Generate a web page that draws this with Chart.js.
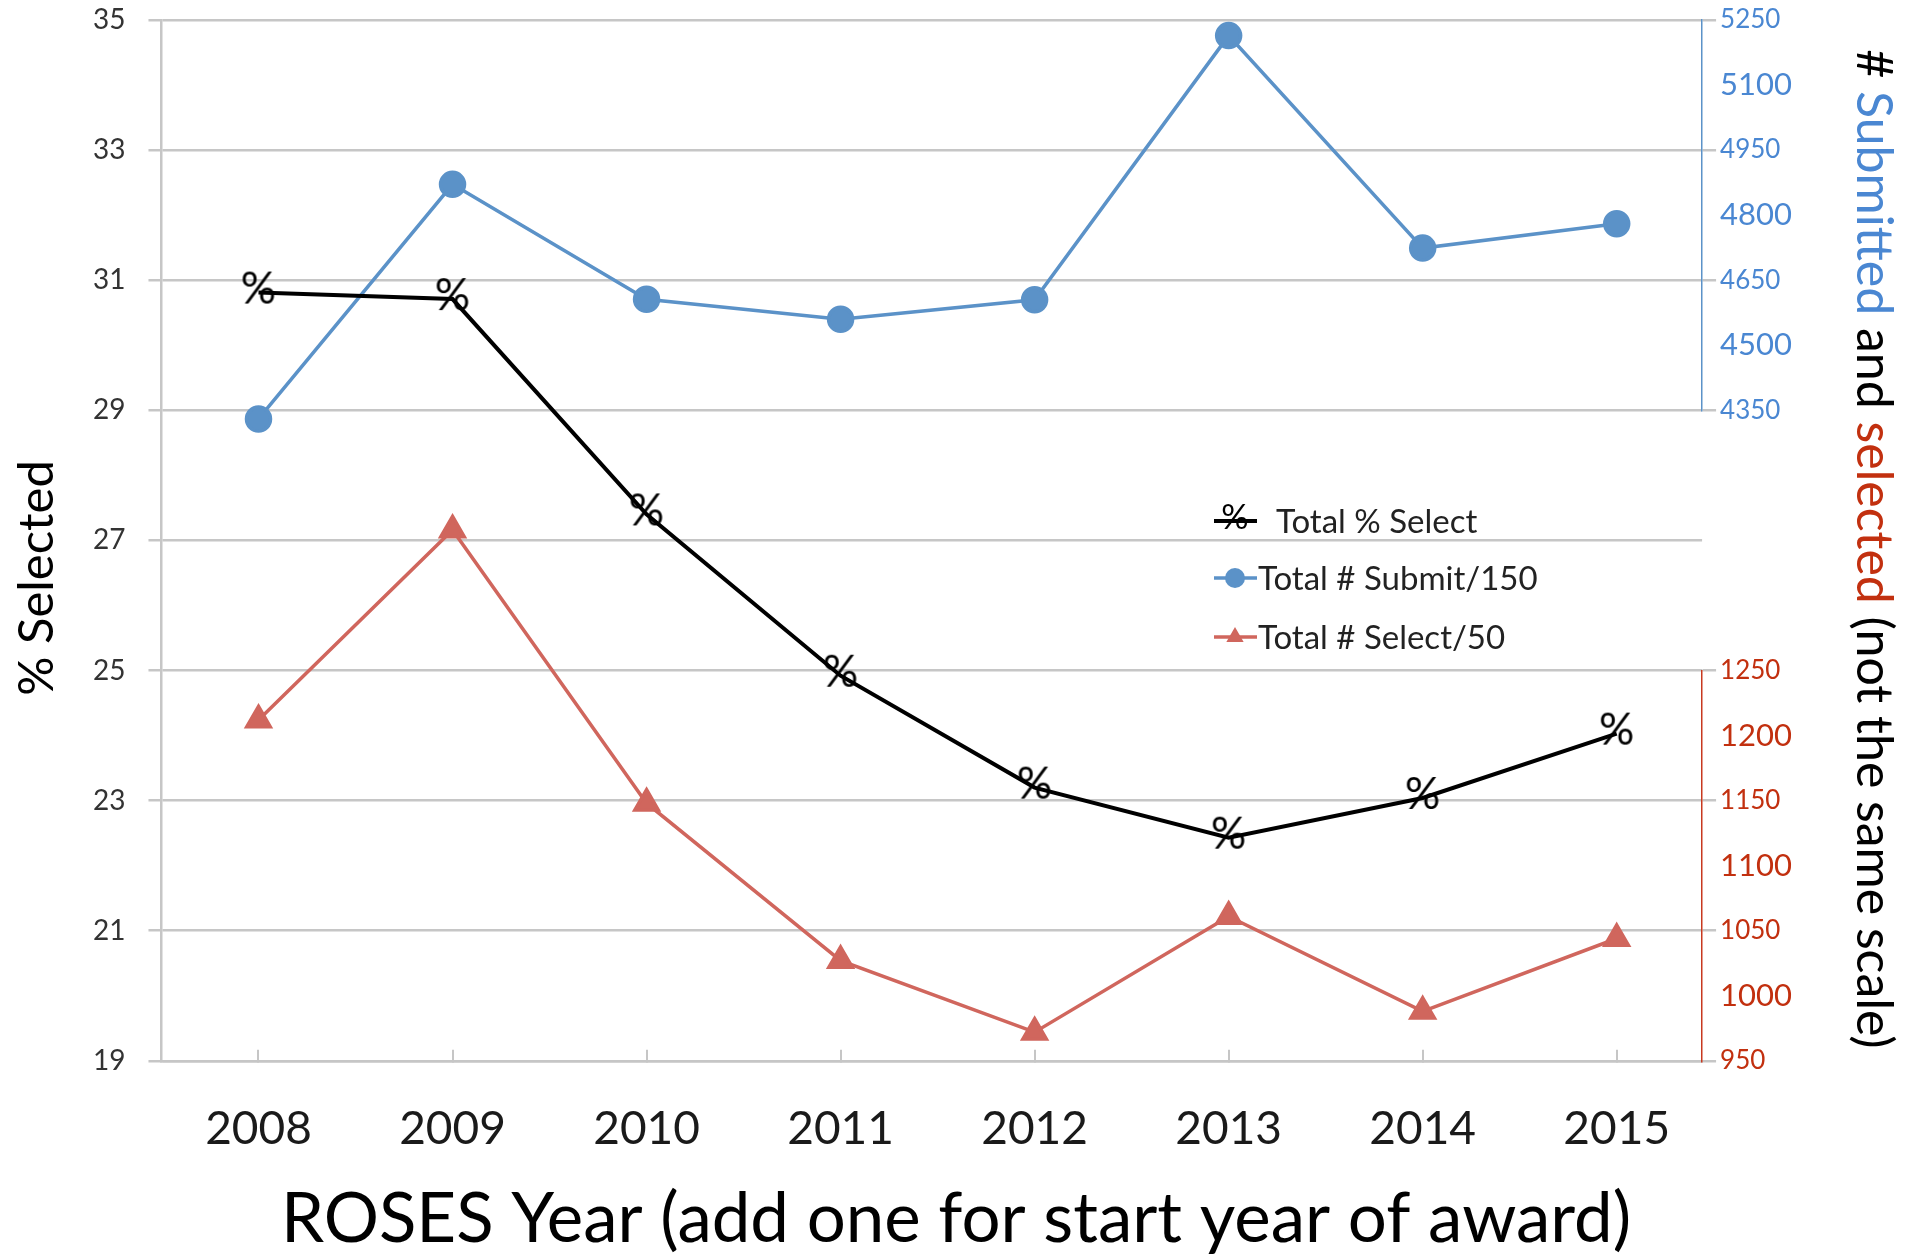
<!DOCTYPE html>
<html>
<head>
<meta charset="utf-8">
<script src="https://cdn.jsdelivr.net/npm/chart.js@4.4.1/dist/chart.umd.min.js"></script>
<style>
    html, body { margin: 0; padding: 0; background: #fff; }
    #wrap { width: 1913px; height: 1256px; position: relative; }
</style>
</head>
<body>
<div id="wrap"><canvas id="rosesChart"></canvas></div>
<script>
// ROSES years
const years = [2008, 2009, 2010, 2011, 2012, 2013, 2014, 2015];

// Total % selected
const pctSelected = [30.81, 30.71, 27.40, 24.92, 23.20, 22.43, 23.04, 24.03];
// Total # submitted (plotted as /150)
const submitted = [4330, 4871, 4606, 4560, 4605, 5214, 4724, 4780];
// Total # selected (plotted as /50)
const selected = [1212, 1358, 1148, 1027, 972, 1061, 988, 1044];

const seriesNames = ['Total % Select', 'Total # Submit/150', 'Total # Select/50'];

// axis ranges: min, max, step
const pctRange = [19, 35, 2];
const submitRange = [4350, 5250, 150];
const selectRange = [950, 1250, 50];

const gridGray = '#c6c6c6';
const blue = '#5b92c8';
const blueText = '#4a87d2';
const red = '#d0665d';
const redText = '#c2300f';

// "%" glyph used as the marker of the percent series
function makePctMarker(size) {
    const c = document.createElement('canvas');
    c.width = Math.round(size * 0.9);
    c.height = Math.round(size * 1.1);
    const g = c.getContext('2d');
    g.font = size + 'px Lato';
    g.fillStyle = '#000';
    g.textAlign = 'center';
    g.textBaseline = 'middle';
    g.fillText('%', c.width / 2, c.height / 2 - 3);
    return c;
}

const pctMarker = makePctMarker(44);

// legend drawn inside the plot, Excel style
const insideLegend = {
    id: 'insideLegend',
    afterDraw(chart) {
        const ctx = chart.ctx;
        const x0 = 1214;
        const rows = [521, 578, 637];
        const gaps = [18, 0, 0];
        ctx.save();
        chart.data.datasets.forEach((ds, i) => {
            const y = rows[i];
            ctx.strokeStyle = ds.borderColor;
            ctx.lineWidth = ds.borderWidth;
            ctx.beginPath();
            ctx.moveTo(x0, y);
            ctx.lineTo(x0 + 43, y);
            ctx.stroke();
            if (i === 0) {
                ctx.fillStyle = '#000';
                ctx.font = '34px Lato';
                ctx.textAlign = 'center';
                ctx.textBaseline = 'middle';
                ctx.fillText('%', x0 + 21, y - 3);
            } else {
                ctx.fillStyle = ds.pointBackgroundColor;
                Chart.helpers.drawPoint(ctx, { pointStyle: ds.pointStyle, radius: 10, rotation: 0 }, x0 + 21, y);
            }
            ctx.fillStyle = '#222';
            ctx.font = '33px Lato';
            ctx.textAlign = 'left';
            ctx.textBaseline = 'middle';
            ctx.fillText(ds.label, x0 + 44 + gaps[i], y + 1);
        });
        ctx.restore();
    }
};

// axis titles (the right one is multi-coloured)
const axisTitles = {
    id: 'axisTitles',
    afterDraw(chart) {
        const ctx = chart.ctx;
        ctx.save();
        ctx.textBaseline = 'middle';

        // left
        ctx.save();
        ctx.font = '49px Lato';
        ctx.fillStyle = '#000';
        ctx.textAlign = 'center';
        ctx.translate(37, 578);
        ctx.rotate(-Math.PI / 2);
        ctx.fillText('% Selected', 0, 0);
        ctx.restore();

        // bottom
        ctx.font = '69px Lato';
        ctx.fillStyle = '#000';
        ctx.textAlign = 'center';
        ctx.fillText('ROSES Year (add one for start year of award)', 956, 1220);

        // right
        const parts = [
            ['# ', '#000'],
            ['Submitted', blueText],
            [' and ', '#000'],
            ['selected', redText],
            [' (not the same scale)', '#000']
        ];
        ctx.font = '50px Lato';
        ctx.textAlign = 'left';
        const total = parts.reduce((s, p) => s + ctx.measureText(p[0]).width, 0);
        ctx.translate(1873, 549);
        ctx.rotate(Math.PI / 2);
        let x = -total / 2;
        parts.forEach(p => {
            ctx.fillStyle = p[1];
            ctx.fillText(p[0], x, 0);
            x += ctx.measureText(p[0]).width;
        });
        ctx.restore();
    }
};

const evenTickGray = ctx => (ctx.index % 2 === 0 ? gridGray : 'rgba(0,0,0,0)');
const altTickFont = ctx => ({ family: 'Lato', size: ctx.index % 2 === 0 ? 26 : 31 });
// keep the tick label padding from pushing the plot area down
const noEndPadding = scale => {
    scale.paddingTop = 0;
    scale.paddingBottom = 0;
};

new Chart(document.getElementById('rosesChart'), {
    type: 'line',
    data: {
        labels: years,
        datasets: [
            {
                label: seriesNames[0],
                data: pctSelected,
                borderColor: '#000',
                borderWidth: 4,
                pointStyle: pctMarker,
                pointRadius: 18,
                tension: 0,
                clip: false,
                yAxisID: 'y'
            },
            {
                label: seriesNames[1],
                data: submitted.map(v => v / 150),
                borderColor: blue,
                backgroundColor: blue,
                pointBackgroundColor: blue,
                pointBorderColor: blue,
                borderWidth: 3.5,
                pointStyle: 'circle',
                pointRadius: 12,
                tension: 0,
                clip: false,
                yAxisID: 'y'
            },
            {
                label: seriesNames[2],
                data: selected.map(v => v / 50),
                borderColor: red,
                backgroundColor: red,
                pointBackgroundColor: red,
                pointBorderColor: red,
                borderWidth: 3.5,
                pointStyle: 'triangle',
                pointRadius: 13.5,
                tension: 0,
                clip: false,
                yAxisID: 'y'
            }
        ]
    },
    options: {
        responsive: true,
        maintainAspectRatio: false,
        animation: false,
        events: [],
        layout: {
            autoPadding: false,
            padding: { top: 20, right: 117, bottom: 47, left: 70 }
        },
        plugins: {
            legend: { display: false },
            tooltip: { enabled: false }
        },
        scales: {
            x: {
                type: 'linear',
                min: 2007.5,
                max: 2015.44,
                ticks: {
                    stepSize: 1,
                    includeBounds: false,
                    padding: 52,
                    color: '#1a1a1a',
                    font: { family: 'Lato', size: 46 },
                    callback: v => String(v)
                },
                grid: {
                    drawOnChartArea: false,
                    tickLength: -11,
                    color: gridGray,
                    lineWidth: 2
                },
                border: { color: gridGray, width: 2.5 }
            },
            y: {
                position: 'left',
                min: pctRange[0],
                max: pctRange[1],
                afterFit: noEndPadding,
                ticks: {
                    stepSize: pctRange[2],
                    padding: 23,
                    color: '#333',
                    font: { family: 'Lato', size: 28 }
                },
                grid: {
                    color: gridGray,
                    lineWidth: 2.5,
                    tickLength: 13
                },
                border: { color: gridGray, width: 2.5 }
            },
            yBlue: {
                position: 'right',
                stack: 'right',
                stackWeight: 6,
                min: submitRange[0],
                max: submitRange[1],
                afterFit: noEndPadding,
                ticks: {
                    stepSize: submitRange[2],
                    autoSkip: false,
                    padding: 4,
                    color: blueText,
                    font: altTickFont,
                    callback: v => String(v)
                },
                grid: {
                    drawOnChartArea: false,
                    tickLength: 14,
                    lineWidth: 2.5,
                    color: evenTickGray
                },
                border: { color: blue, width: 1.5 }
            },
            yGap: {
                position: 'right',
                stack: 'right',
                stackWeight: 4,
                min: 0,
                max: 1,
                afterFit: noEndPadding,
                ticks: { display: false },
                grid: { display: false },
                border: { display: false }
            },
            yRed: {
                position: 'right',
                stack: 'right',
                stackWeight: 6,
                min: selectRange[0],
                max: selectRange[1],
                afterFit: noEndPadding,
                ticks: {
                    stepSize: selectRange[2],
                    autoSkip: false,
                    padding: 4,
                    color: redText,
                    font: altTickFont,
                    callback: v => String(v)
                },
                grid: {
                    drawOnChartArea: false,
                    tickLength: 14,
                    lineWidth: 2.5,
                    color: evenTickGray
                },
                border: { color: '#c8391f', width: 1.5 }
            }
        }
    },
    plugins: [insideLegend, axisTitles]
});
</script>
</body>
</html>
